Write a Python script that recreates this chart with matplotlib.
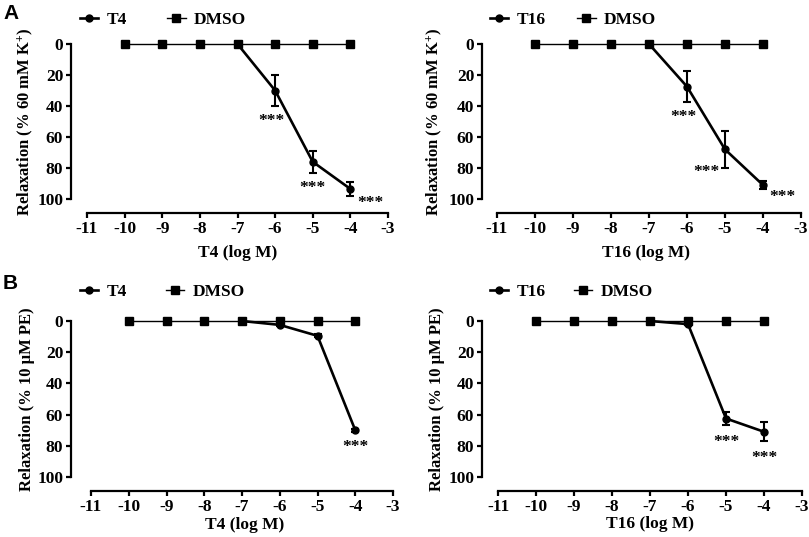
import matplotlib
matplotlib.use('Agg')
import matplotlib.pyplot as plt

plt.rcParams['font.family'] = ['Liberation Serif', 'DejaVu Serif']
plt.rcParams['font.weight'] = 'bold'
plt.rcParams['axes.unicode_minus'] = False
plt.rcParams['mathtext.fontset'] = 'custom'
plt.rcParams['mathtext.rm'] = 'Liberation Serif:bold'
plt.rcParams['mathtext.bf'] = 'Liberation Serif:bold'
plt.rcParams['mathtext.default'] = 'bf'

# data
dmso_conc = [-10, -9, -8, -7, -6, -5, -4]
dmso_resp = [0, 0, 0, 0, 0, 0, 0]
drug_conc = [-7, -6, -5, -4]

t4_k = [0, 30, 76, 93.5]
t4_k_err = [0, 10, 7, 4.5]
t16_k = [0, 27.5, 68, 91]
t16_k_err = [0, 10, 12, 2.5]
t4_pe = [0, 2.5, 9.5, 70]
t4_pe_err = [0, 1, 1, 1]
t16_pe = [0, 2, 62.5, 71]
t16_pe_err = [0, 0, 4, 6]

# significance labels (x, y) in data units
stars_t4_k = [(-6.1, 47), (-5.0, 90), (-3.46, 100)]
stars_t16_k = [(-6.1, 44), (-5.5, 80), (-3.5, 96)]
stars_t4_pe = [(-4.0, 78)]
stars_t16_pe = [(-5.0, 75), (-4.0, 85)]

fig = plt.figure(figsize=(8.09, 5.37), dpi=100)
W, H = 809, 537

panels = [
    # axes box in pixels: left, top, right, bottom; y spine offset px
    dict(box=(87, 44, 388, 199), yoff=16, name='T4', y=t4_k, err=t4_k_err,
         ylab=r'Relaxation (% 60 mM K$^{+}$)', stars=stars_t4_k,
         xlab_xy=(0.5, -0.297), ylab_x=-0.173, leg=(-0.023, 1.155), cs=2.3),
    dict(box=(497, 44, 801, 199), yoff=15, name='T16', y=t16_k, err=t16_k_err,
         ylab=r'Relaxation (% 60 mM K$^{+}$)', stars=stars_t16_k,
         xlab_xy=(0.49, -0.297), ylab_x=-0.174, leg=(-0.023, 1.155), cs=1.8),
    dict(box=(91, 321, 393, 477), yoff=20, name='T4', y=t4_pe, err=t4_pe_err,
         ylab='Relaxation (% 10 µM PE)', stars=stars_t4_pe,
         xlab_xy=(0.51, -0.256), ylab_x=-0.185, leg=(-0.036, 1.186), cs=2.2),
    dict(box=(498, 321, 802, 477), yoff=16, name='T16', y=t16_pe, err=t16_pe_err,
         ylab='Relaxation (% 10 µM PE)', stars=stars_t16_pe,
         xlab_xy=(0.5, -0.25), ylab_x=-0.174, leg=(-0.026, 1.186), cs=1.6),
]

for p in panels:
    l, t, r, b = p['box']
    ax = fig.add_axes([l / W, (H - b) / H, (r - l) / W, (b - t) / H])
    ax.errorbar(drug_conc, p['y'], yerr=p['err'], fmt='none', ecolor='black',
                elinewidth=1.5, capsize=3, capthick=1.5, clip_on=False, zorder=3)
    ax.plot(drug_conc, p['y'], color='black', lw=1.9, marker='o', ms=5,
            label=p['name'], clip_on=False, zorder=4)
    ax.plot(dmso_conc, dmso_resp, color='black', lw=1.0, marker='s', ms=6,
            label='DMSO', clip_on=False, zorder=5)
    for sx, sy in p['stars']:
        ax.annotate('***', (sx, sy), xytext=(0, -6), textcoords='offset points',
                    ha='center', va='baseline', fontsize=12.5)

    ax.set_xlim(-11, -3)
    ax.set_ylim(100, 0)
    ax.set_xticks(range(-11, -2))
    ax.set_yticks(range(0, 101, 20))
    for s in ['top', 'right']:
        ax.spines[s].set_visible(False)
    ax.spines['left'].set_position(('outward', p['yoff'] * 0.72))
    ax.spines['bottom'].set_position(('outward', 14 * 0.72))
    ax.spines['left'].set_bounds(100, 0)
    ax.spines['bottom'].set_bounds(-11, -3)
    for s in ['left', 'bottom']:
        ax.spines[s].set_linewidth(1.6)
    ax.tick_params(direction='out', length=3.6, width=1.6, labelsize=12.5, pad=2)
    ax.patch.set_visible(False)

    ax.set_xlabel(p['name'] + ' (log M)', fontsize=12.5, fontweight='bold', va='top')
    ax.xaxis.set_label_coords(*p['xlab_xy'])
    ax.set_ylabel(p['ylab'], fontsize=12, fontweight='bold')
    ax.yaxis.set_label_coords(p['ylab_x'], 0.5)

    ax.legend(loc='center left', bbox_to_anchor=p['leg'], ncol=2, frameon=False,
              fontsize=12.5, borderpad=0, borderaxespad=0, handlelength=1.05,
              handletextpad=0.5, columnspacing=p['cs'])

fig.text(3 / W, 1 - 4 / H, 'A', fontfamily='Liberation Sans', fontweight='bold',
         fontsize=15, va='top', ha='left')
fig.text(3 / W, 1 - 274 / H, 'B', fontfamily='Liberation Sans', fontweight='bold',
         fontsize=15, va='top', ha='left')

fig.savefig('out.png', dpi=100)
